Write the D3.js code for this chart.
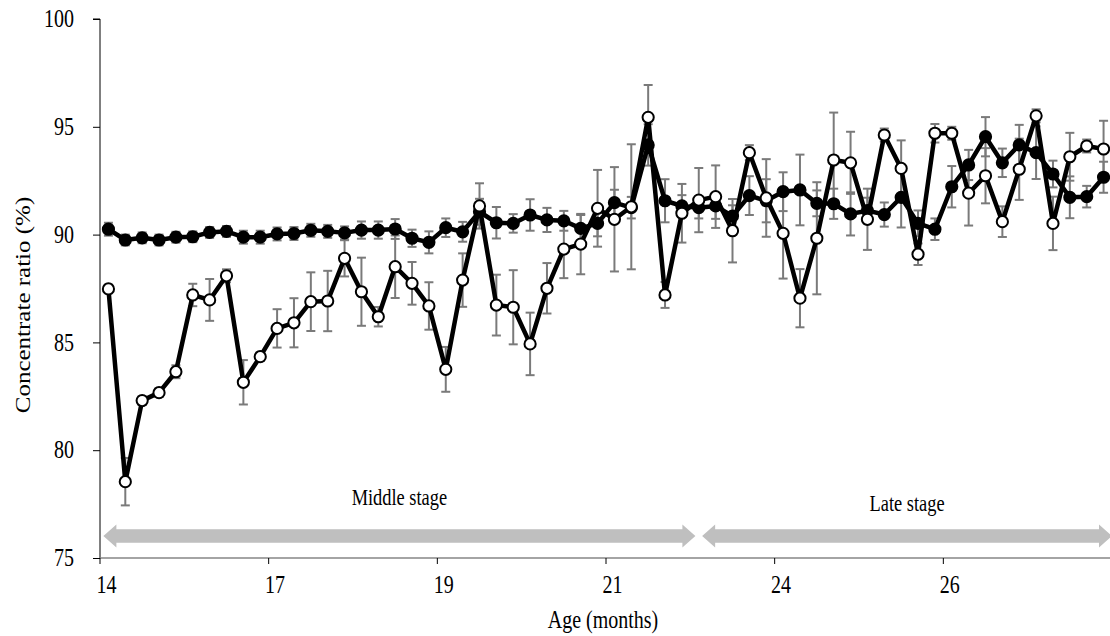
<!DOCTYPE html>
<html>
<head>
<meta charset="utf-8">
<script src="https://cdn.jsdelivr.net/npm/d3@7"></script>
<style>
  html, body { margin: 0; padding: 0; background: #fff; }
  svg { display: block; }
  svg text { font-family: "Liberation Serif", "Times New Roman", serif; fill: #000; }
</style>
</head>
<body>
<svg id="chart" width="1110" height="636"></svg>
<script>
// Sampling points (weekly), labelled every 10th point with the age in months
const samples = d3.range(60);
const tickSamples = [0, 10, 20, 30, 40, 50];
const tickLabels = ["14", "17", "19", "21", "24", "26"];
const yTicks = [75, 80, 85, 90, 95, 100];

// Group with filled markers: mean and SE
const filledMean = [
  90.25, 89.75, 89.85, 89.75, 89.88, 89.90, 90.10, 90.15, 89.88, 89.88,
  90.03, 90.05, 90.20, 90.15, 90.08, 90.21, 90.21, 90.26, 89.83, 89.64,
  90.32, 90.13, 91.06, 90.55, 90.52, 90.91, 90.68, 90.64, 90.29, 90.52,
  91.48, 91.25, 94.16, 91.57, 91.33, 91.25, 91.33, 90.86, 91.81, 91.57,
  91.99, 92.07, 91.45, 91.43, 90.96, 91.11, 90.93, 91.73, 90.52, 90.25,
  92.22, 93.23, 94.54, 93.33, 94.16, 93.80, 92.81, 91.73, 91.76, 92.66
];
const filledSE = [
  0.30, 0.25, 0.25, 0.25, 0.25, 0.25, 0.25, 0.25, 0.30, 0.30,
  0.30, 0.30, 0.30, 0.30, 0.30, 0.40, 0.40, 0.46, 0.40, 0.51,
  0.43, 0.46, 0.60, 0.73, 0.43, 0.73, 0.56, 0.46, 0.62, 0.60,
  0.60, 0.50, 0.96, 1.00, 0.50, 0.50, 0.60, 0.50, 0.90, 1.00,
  0.90, 1.64, 0.60, 0.70, 1.00, 0.60, 0.56, 1.40, 0.60, 0.50,
  0.96, 0.70, 0.91, 0.66, 0.93, 1.22, 0.62, 0.97, 0.50, 0.72
];

// Group with open markers: mean and SE
const openMean = [
  87.48, 78.54, 82.30, 82.67, 83.64, 87.20, 86.97, 88.09, 83.15, 84.34,
  85.65, 85.91, 86.89, 86.92, 88.90, 87.35, 86.19, 88.51, 87.74, 86.69,
  83.75, 87.89, 91.33, 86.73, 86.63, 84.93, 87.51, 89.33, 89.56, 91.22,
  90.71, 91.29, 95.44, 87.20, 90.99, 91.60, 91.76, 90.18, 93.80, 91.70,
  90.06, 87.05, 89.83, 93.46, 93.33, 90.71, 94.62, 93.07, 89.09, 94.70,
  94.70, 91.92, 92.73, 90.60, 93.03, 95.51, 90.52, 93.61, 94.11, 93.97
];
const openSE = [
  0.20, 1.10, 0.20, 0.20, 0.30, 0.52, 0.97, 0.30, 1.03, 0.20,
  0.89, 1.14, 1.36, 1.40, 0.84, 1.58, 0.45, 1.45, 0.99, 1.10,
  1.04, 1.24, 1.05, 1.41, 1.72, 1.45, 1.17, 1.35, 1.40, 1.78,
  2.42, 2.90, 1.50, 0.60, 1.36, 1.49, 1.45, 1.47, 0.35, 1.80,
  2.10, 1.35, 2.60, 2.20, 1.44, 1.42, 0.30, 1.30, 0.50, 0.43,
  0.30, 1.50, 1.28, 0.71, 1.42, 0.30, 1.24, 1.11, 0.30, 1.31
];

// Production stages, spanning sample positions
const stageNames = ["Middle stage", "Late stage"];
const stageStart = [-0.3, 35.2];
const stageEnd = [34.8, 59.5];

const svg = d3.select("#chart");
const plotLeft = 100, plotRight = 1112, plotTop = 19, plotBottom = 558;
const fontSize = 25, squeeze = 0.8;   // narrow serif lettering

// Text helper: places a horizontally condensed label at (px, py)
function label(parent, px, py, str, anchor, size, rotate) {
  return parent.append("text")
    .attr("transform", `translate(${px},${py}) scale(${squeeze},1)` + (rotate ? ` rotate(${rotate})` : ""))
    .attr("text-anchor", anchor).attr("font-size", size).text(str);
}

const x = d3.scaleBand().domain(samples).range([plotLeft, plotRight]).paddingInner(0).paddingOuter(0);
const bw = x.bandwidth();
const cx = i => x(i) + bw / 2;
const y = d3.scaleLinear().domain([75, 100]).range([plotBottom, plotTop]);
// continuous position along the sample axis (for stage arrows)
const xs = d3.scaleLinear().domain([-0.5, 59.5]).range([plotLeft, plotRight]);

// Stage arrows
const arrowY = 536, shaftH = 6.7, headH = 11.5, headL = 13;
function arrowPath(x0, x1) {
  return `M${x0},${arrowY} L${x0 + headL},${arrowY - headH} L${x0 + headL},${arrowY - shaftH}
          L${x1 - headL},${arrowY - shaftH} L${x1 - headL},${arrowY - headH} L${x1},${arrowY}
          L${x1 - headL},${arrowY + headH} L${x1 - headL},${arrowY + shaftH}
          L${x0 + headL},${arrowY + shaftH} L${x0 + headL},${arrowY + headH} Z`;
}
stageNames.forEach((name, k) => {
  const x0 = xs(stageStart[k]), x1 = xs(stageEnd[k]);
  svg.append("path").attr("d", arrowPath(x0, x1)).attr("fill", "#bfbfbf");
  label(svg, (x0 + x1) / 2, k === 0 ? 505 : 511, name, "middle", 23);
});

// Y axis
const yAxis = svg.append("g").attr("transform", `translate(${plotLeft},0)`)
  .call(d3.axisLeft(y).tickValues(yTicks).tickSize(7).tickFormat(""));
yAxis.select(".domain").attr("stroke", "#000").attr("stroke-width", 1).attr("d", `M-7,${plotTop}H0V${plotBottom}`);
yAxis.selectAll(".tick line").attr("stroke", "#000");
yTicks.forEach(v => label(svg, 74, y(v) + 8.2, String(v), "end", fontSize));

// X axis
const xAxis = svg.append("g");
xAxis.append("line").attr("x1", plotLeft).attr("x2", plotRight).attr("y1", plotBottom).attr("y2", plotBottom)
  .attr("stroke", "#868686").attr("stroke-width", 1.5);
xAxis.selectAll(".xtick").data(tickSamples).join("line")
  .attr("x1", d => x(d)).attr("x2", d => x(d))
  .attr("y1", plotBottom).attr("y2", plotBottom + 6).attr("stroke", "#000").attr("stroke-width", 1);
tickSamples.forEach((d, i) => label(xAxis, cx(d) - 2, 593, tickLabels[i], "middle", fontSize));

// Axis titles
label(svg, (plotLeft + plotRight) / 2 - 3, 628, "Age (months)", "middle", fontSize);
label(svg, 30, 305, "Concentrate ratio (%)", "middle", fontSize, -90);

// Error bars
function errorBars(mean, se) {
  const g = svg.append("g").attr("stroke", "#7a7a7a").attr("stroke-width", 2).attr("fill", "none");
  samples.forEach(i => {
    const xc = cx(i), y0 = y(mean[i] - se[i]), y1 = y(mean[i] + se[i]);
    g.append("line").attr("x1", xc).attr("x2", xc).attr("y1", y0).attr("y2", y1);
    g.append("line").attr("x1", xc - 4.5).attr("x2", xc + 4.5).attr("y1", y0).attr("y2", y0);
    g.append("line").attr("x1", xc - 4.5).attr("x2", xc + 4.5).attr("y1", y1).attr("y2", y1);
  });
}
errorBars(filledMean, filledSE);
errorBars(openMean, openSE);

// Lines and markers
const line = d3.line().x(d => cx(d[0])).y(d => y(d[1]));
function series(mean, fill) {
  const pts = samples.map(i => [i, mean[i]]);
  svg.append("path").datum(pts).attr("d", line).attr("fill", "none")
    .attr("stroke", "#000").attr("stroke-width", 4.5).attr("stroke-linejoin", "round");
  svg.append("g").selectAll("circle").data(pts).join("circle")
    .attr("cx", d => cx(d[0])).attr("cy", d => y(d[1])).attr("r", 5.6)
    .attr("fill", fill).attr("stroke", "#000").attr("stroke-width", 2);
}
series(filledMean, "#000");
series(openMean, "#fff");
</script>
</body>
</html>
